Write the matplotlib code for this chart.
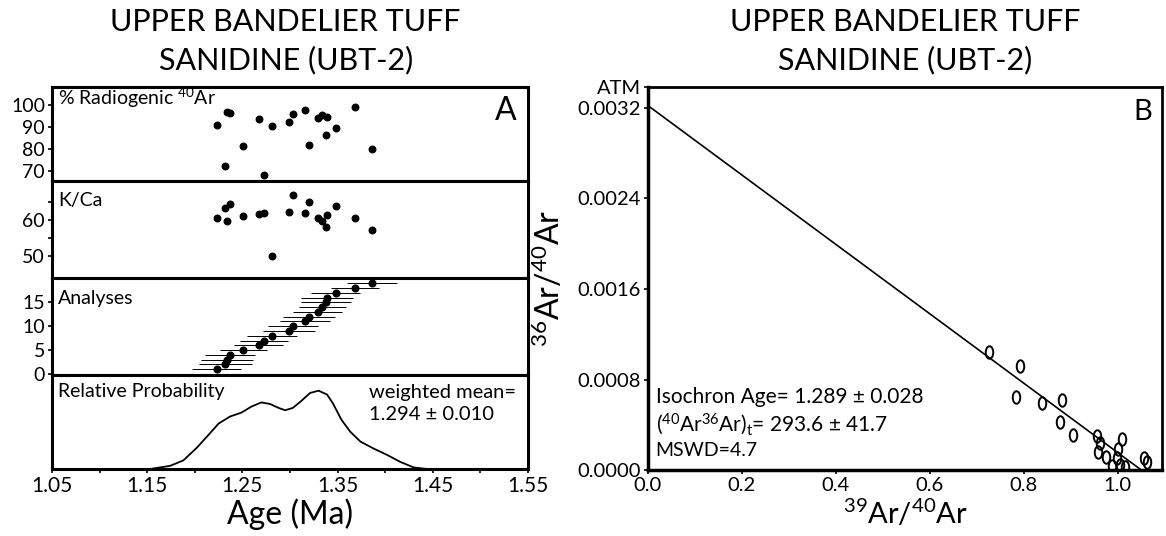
import matplotlib
matplotlib.use("Agg")
import matplotlib.pyplot as plt
from matplotlib.markers import MarkerStyle
from matplotlib.transforms import Affine2D

plt.rcParams["font.family"] = ["Lato", "DejaVu Sans"]
plt.rcParams["mathtext.fontset"] = "custom"
plt.rcParams["mathtext.rm"] = "Lato"

# panel A data (ages in Ma)
age = [1.223, 1.232, 1.234, 1.237, 1.251, 1.267, 1.273, 1.281, 1.299, 1.303,
       1.316, 1.320, 1.329, 1.334, 1.338, 1.339, 1.348, 1.368, 1.386]
radiogenic = [90.9, 72.3, 96.7, 96.2, 81.4, 93.6, 68.2, 90.2, 92.3, 95.6,
              97.4, 81.7, 93.8, 95.5, 86.5, 94.4, 89.4, 99.1, 79.8]
kca = [60.5, 63.4, 59.7, 64.4, 61.1, 61.6, 62.0, 50.0, 62.3, 66.8,
       61.8, 65.0, 60.5, 59.8, 58.0, 61.3, 63.9, 60.5, 57.2]
analysis_no = list(range(1, 20))
age_err = [0.026, 0.028, 0.027, 0.026, 0.025, 0.026, 0.025, 0.026, 0.027, 0.026,
           0.026, 0.027, 0.026, 0.025, 0.026, 0.027, 0.026, 0.025, 0.026]

# relative probability curve
prob_age = [1.05, 1.153, 1.174, 1.188, 1.202, 1.214, 1.225, 1.237, 1.249, 1.260,
            1.270, 1.279, 1.288, 1.295, 1.303, 1.312, 1.321, 1.330, 1.339, 1.345,
            1.354, 1.363, 1.374, 1.388, 1.402, 1.416, 1.430, 1.444, 1.55]
prob = [0.0, 0.0, 0.04, 0.11, 0.27, 0.43, 0.58, 0.67, 0.72, 0.80,
        0.85, 0.83, 0.78, 0.75, 0.78, 0.87, 0.97, 1.0, 0.95, 0.84,
        0.63, 0.48, 0.35, 0.26, 0.18, 0.09, 0.02, 0.0, 0.0]

# panel B isochron data
ar39_40 = [0.726, 0.791, 0.783, 0.838, 0.881, 0.877, 0.904, 0.955, 0.962, 0.957,
           0.974, 1.009, 1.000, 0.998, 0.987, 1.004, 1.055, 1.062, 1.016]
ar36_40 = [0.001046, 0.000923, 0.000642, 0.000589, 0.000615, 0.000422, 0.000308,
           0.000299, 0.000237, 0.000158, 0.000114, 0.000273, 0.000185, 0.000105,
           0.000035, 0.000044, 0.000105, 0.000070, 0.000030]
line_x = [0.0, 1.05]
line_y = [0.00322, 0.0]
atm = 1 / 295.5

fig = plt.figure(figsize=(11.66, 5.36), dpi=100)
gs = fig.add_gridspec(4, 1, left=0.0446, right=0.4528, bottom=0.125, top=0.8377,
                      hspace=0, height_ratios=[94, 97, 97, 94])
ax1 = fig.add_subplot(gs[0])
ax2 = fig.add_subplot(gs[1], sharex=ax1)
ax3 = fig.add_subplot(gs[2], sharex=ax1)
ax4 = fig.add_subplot(gs[3], sharex=ax1)

for ax in (ax1, ax2, ax3, ax4):
    for s in ax.spines.values():
        s.set_linewidth(2.2)
    ax.tick_params(direction="out", length=3, width=1.2, labelsize=14, pad=2)
    ax.tick_params(axis="x", labelbottom=False)

ax1.scatter(age, radiogenic, s=22, color="black", zorder=3)
ax1.set_ylim(65.5, 108)
ax1.set_yticks([70, 80, 90, 100])
ax1.text(0.013, 0.88, "% Radiogenic $\\mathregular{^{40}}$Ar", transform=ax1.transAxes,
         fontsize=14, va="center")
ax1.text(0.975, 0.74, "A", transform=ax1.transAxes, fontsize=23, ha="right", va="center")

ax2.scatter(age, kca, s=22, color="black", zorder=3)
ax2.set_ylim(43.9, 70.8)
ax2.set_yticks([50, 60])
ax2.set_yticks([55, 65], minor=True)
ax2.tick_params(which="minor", direction="out", length=3, width=1.2)
ax2.text(0.013, 0.8, "K/Ca", transform=ax2.transAxes, fontsize=14, va="center")

ax3.errorbar(age, analysis_no, xerr=age_err, fmt="o", color="black", ms=4.8,
             elinewidth=0.7, capsize=0, zorder=3)
ax3.set_ylim(-0.2, 20.1)
ax3.set_yticks([0, 5, 10, 15])
ax3.text(0.013, 0.79, "Analyses", transform=ax3.transAxes, fontsize=14, va="center")

ax4.plot(prob_age, prob, color="black", lw=1.3)
ax4.set_ylim(0, 1.2)
ax4.set_yticks([])
ax4.text(0.013, 0.82, "Relative Probability", transform=ax4.transAxes, fontsize=14,
         va="center")
ax4.text(0.665, 0.9, "weighted mean=\n1.294 \u00b1 0.010", transform=ax4.transAxes,
         fontsize=14.5, va="top", linespacing=1.3)
ax4.tick_params(axis="x", labelbottom=True, labelsize=15)
ax4.set_xlim(1.05, 1.55)
ax4.set_xticks([1.05, 1.15, 1.25, 1.35, 1.45, 1.55])
ax4.set_xticks([1.10, 1.20, 1.30, 1.40, 1.50], minor=True)
ax4.tick_params(axis="x", which="minor", direction="out", length=3, width=1.2)
ax4.set_xlabel("Age (Ma)", fontsize=23, labelpad=2)

fig.text(0.245, 0.985, "UPPER BANDELIER TUFF\nSANIDINE (UBT-2)", ha="center", va="top",
         fontsize=22, linespacing=1.4)

# panel B
axb = fig.add_axes([0.5557, 0.123, 0.4409, 0.7147])
for s in axb.spines.values():
    s.set_linewidth(2.0)
axb.spines["left"].set_linewidth(2.5)
axb.spines["bottom"].set_linewidth(2.5)
oval = MarkerStyle("o", fillstyle="none", transform=Affine2D().scale(0.6, 1.0))
axb.plot(ar39_40, ar36_40, linestyle="none", marker=oval, ms=9, mec="black",
         mew=1.4, zorder=3)
axb.plot(line_x, line_y, color="black", lw=1.2)
axb.set_xlim(0, 1.094)
axb.set_ylim(0, atm)
axb.set_xticks([0.0, 0.2, 0.4, 0.6, 0.8, 1.0])
axb.set_xticklabels(["0.0", "0.2", "0.4", "0.6", "0.8", "1.0"])
axb.set_yticks([0.0, 0.0008, 0.0016, 0.0024, 0.0032, atm])
axb.set_yticklabels(["0.0000", "0.0008", "0.0016", "0.0024", "0.0032", "ATM"])
axb.tick_params(direction="out", length=3, width=1.2, labelsize=14.5, pad=2)
axb.set_xlabel("$\\mathregular{^{39}}$Ar/$\\mathregular{^{40}}$Ar", fontsize=21, labelpad=3)
axb.set_ylabel("$\\mathregular{^{36}}$Ar/$\\mathregular{^{40}}$Ar", fontsize=23, labelpad=8)
axb.text(0.98, 0.935, "B", transform=axb.transAxes, fontsize=21, ha="right", va="center")
axb.text(0.015, 0.19, "Isochron Age= 1.289 \u00b1 0.028", transform=axb.transAxes,
         fontsize=15, va="center")
axb.text(0.015, 0.12, "($\\mathregular{^{40}}$Ar$\\mathregular{^{36}}$Ar)$\\mathregular{_t}$= 293.6 \u00b1 41.7",
         transform=axb.transAxes, fontsize=15, va="center")
axb.text(0.015, 0.05, "MSWD=4.7", transform=axb.transAxes, fontsize=14, va="center")

fig.text(0.776, 0.985, "UPPER BANDELIER TUFF\nSANIDINE (UBT-2)", ha="center", va="top",
         fontsize=22, linespacing=1.4)

fig.savefig("out.png", dpi=100)
